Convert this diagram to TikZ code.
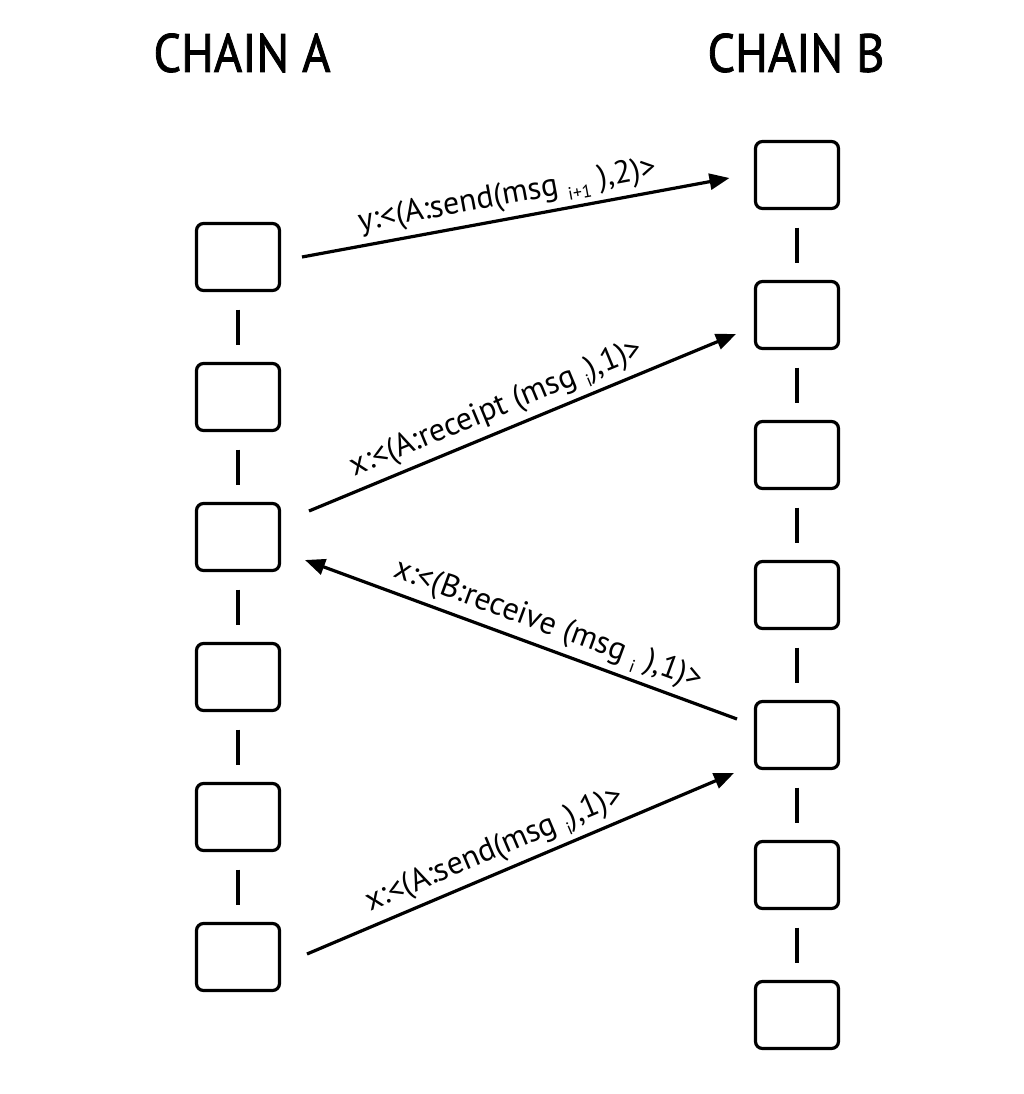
\documentclass[tikz,border=0pt]{standalone}
\usepackage{fontspec}
\setmainfont{PT Sans}
\newfontfamily\chainfont[FakeStretch=0.9,FakeBold=1.5]{PT Sans}
\usetikzlibrary{positioning,arrows.meta}
\providecommand{\msgidx}[1]{\raisebox{-0.5ex}{\fontsize{9}{9}\selectfont #1}}

\tikzset{
  block/.style={draw, line width=1.6pt, rounded corners=3.5pt,
    minimum width=41.5pt, minimum height=33.5pt, outer sep=0pt},
  link/.style={line width=2pt, shorten <=9.5pt, shorten >=9.5pt},
  msg/.style={line width=1.6pt, -{Triangle[length=10pt,width=8pt]}},
  lbl/.style={sloped, above, inner sep=2.5pt, font=\fontsize{16}{19}\selectfont},
  chain/.style={font=\chainfont\fontsize{27}{31}\selectfont}
}

\begin{document}
\begin{tikzpicture}[x=0.5pt, y=-0.5pt, node distance=36.5pt]
\useasboundingbox (0,0) rectangle (1024,1094);

% Chain titles
\node[chain] (ta) at (242,53) {CHAIN A};
\node[chain] (tb) at (796,53) {CHAIN B};

% Define nodes
\node[block] (a1) at (238,257) {};
\node[block, below=of a1] (a2) {};
\node[block, below=of a2] (a3) {};
\node[block, below=of a3] (a4) {};
\node[block, below=of a4] (a5) {};
\node[block, below=of a5] (a6) {};

\node[block] (b1) at (797,175) {};
\node[block, below=of b1] (b2) {};
\node[block, below=of b2] (b3) {};
\node[block, below=of b3] (b4) {};
\node[block, below=of b4] (b5) {};
\node[block, below=of b5] (b6) {};
\node[block, below=of b6] (b7) {};

% Connect the nodes
\draw[link] (a1) -- (a2);
\draw[link] (a2) -- (a3);
\draw[link] (a3) -- (a4);
\draw[link] (a4) -- (a5);
\draw[link] (a5) -- (a6);

\draw[link] (b1) -- (b2);
\draw[link] (b2) -- (b3);
\draw[link] (b3) -- (b4);
\draw[link] (b4) -- (b5);
\draw[link] (b5) -- (b6);
\draw[link] (b6) -- (b7);

% Messages
\draw[msg] ([shift={(11.25pt,0pt)}]a1.east) --
  node[lbl, pos=0.49] {y:<(A:send(msg \msgidx{i+1} ),2)>}
  ([shift={(-13pt,-1.5pt)}]b1.west);
\draw[msg] ([shift={(14.75pt,13pt)}]a3.east) --
  node[lbl, pos=0.46] {x:<(A:receipt (msg \msgidx{i}),1)>}
  ([shift={(-9.75pt,-9.5pt)}]b2.west);
\draw[msg] ([shift={(-9.25pt,8pt)}]b5.west) --
  node[lbl, pos=0.455] {x:<(B:receive (msg \msgidx{i} ),1)>}
  ([shift={(12.75pt,-11.5pt)}]a3.east);
\draw[msg] ([shift={(13.75pt,1.5pt)}]a6.east) --
  node[lbl, pos=0.46] {x:<(A:send(msg \msgidx{i}),1)>}
  ([shift={(-10.75pt,-19pt)}]b5.west);

\end{tikzpicture}
\end{document}
